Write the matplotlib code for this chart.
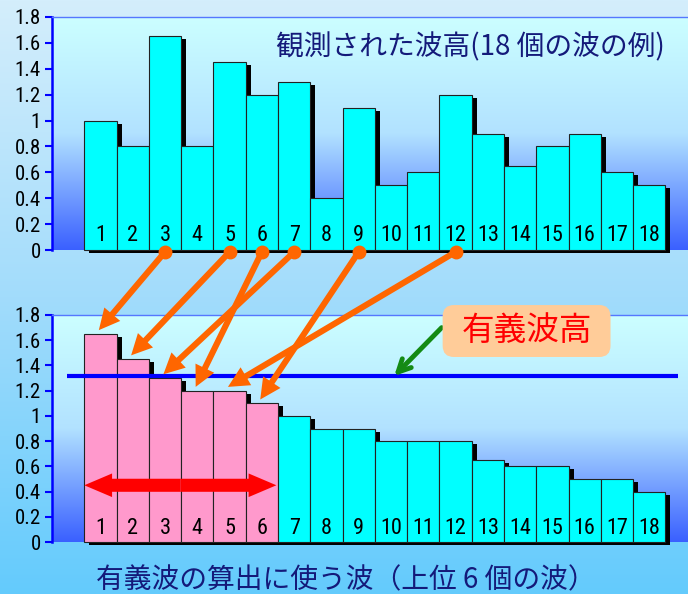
import numpy as np
import matplotlib.pyplot as plt
import matplotlib.patheffects as pe
from matplotlib import font_manager
from matplotlib.colors import LinearSegmentedColormap
from matplotlib.patches import ConnectionPatch, FancyArrowPatch, FancyBboxPatch

# データ
wave_no = np.arange(1, 19)
heights = np.array([1.0, 0.8, 1.65, 0.8, 1.45, 1.2, 1.3, 0.4, 1.1,
                    0.5, 0.6, 1.2, 0.9, 0.65, 0.8, 0.9, 0.6, 0.5])
n_sig = 6
yticks = [0, 0.2, 0.4, 0.6, 0.8, 1.0, 1.2, 1.4, 1.6, 1.8]
ytick_labels = ['0', '0.2', '0.4', '0.6', '0.8', '1', '1.2', '1.4', '1.6', '1.8']
title_top = '観測された波高(18 個の波の例)'
caption = '有義波の算出に使う波（上位 6 個の波）'
hs_label = '有義波高'

# 並べ替えと有義波高
order = np.argsort(-heights, kind='stable')
sorted_h = heights[order]
hs = sorted_h[:n_sig].mean()

plt.rcParams['font.family'] = ['Noto Sans CJK JP', 'DejaVu Sans']
installed = {f.name for f in font_manager.fontManager.ttflist}
num_font = 'DejaVu Sans'
for cand in ['Liberation Sans Narrow', 'DejaVu Sans Condensed', 'Roboto Condensed']:
    if cand in installed:
        num_font = cand
        break
narrow = num_font != 'DejaVu Sans'
bar_size = 16 if narrow else 12.5
tick_size = 15 if narrow else 12

fig = plt.figure(figsize=(6.88, 5.94), dpi=100)

# 背景のグラデーション
grad = np.linspace(0, 1, 256).reshape(-1, 1)
bg = fig.add_axes([0, 0, 1, 1], zorder=-10)
bg.imshow(grad, aspect='auto', extent=[0, 1, 0, 1],
          cmap=LinearSegmentedColormap.from_list('bg', ['#d4eefc', '#a2dcfb', '#64cbfd']))
bg.axis('off')

ax_cmap = LinearSegmentedColormap.from_list('ax', ['#ccffff', '#b2e2ff', '#3a60ff'])
shadow = [pe.SimplePatchShadow(offset=(3.6, -2.2), shadow_rgbFace='black', alpha=1.0),
          pe.Normal()]


def setup(ax):
    ax.patch.set_alpha(0)
    ax.imshow(grad, aspect='auto', cmap=ax_cmap, extent=[0, 1, 0, 1],
              transform=ax.transAxes, zorder=0)
    ax.set_xlim(-0.5, 19.2)
    ax.set_ylim(0, 1.8)
    ax.set_xticks([])
    ax.set_yticks(yticks, ytick_labels)
    ax.tick_params(axis='y', color='#0000ff', labelcolor='black', length=5,
                   width=1.5, direction='out', labelsize=tick_size, pad=3)
    for lbl in ax.get_yticklabels():
        lbl.set_family(num_font)
    ax.spines['left'].set_color('#0000ff')
    ax.spines['left'].set_linewidth(1.8)
    ax.spines['top'].set_color('#5577ff')
    ax.spines['top'].set_linewidth(1)
    ax.spines['right'].set_visible(False)
    ax.spines['bottom'].set_visible(False)


def draw_bars(ax, values, colors, labels):
    bars = ax.bar(wave_no, values, width=1.0, color=colors, edgecolor='#222222',
                  linewidth=0.8, zorder=2, clip_on=False)
    for b in bars:
        b.set_path_effects(shadow)
    for x, lab in zip(wave_no, labels):
        ax.text(x, 0.11, str(lab), ha='center', va='center', fontsize=bar_size,
                family=num_font, zorder=3)


# 上段: 観測された波高
ax1 = fig.add_axes([0.0756, 0.5791, 0.9244, 0.3923])
setup(ax1)
draw_bars(ax1, heights, '#00ffff', wave_no)
ax1.text(0.964, 0.871, title_top, transform=ax1.transAxes, ha='right', va='center',
         fontsize=20, color='#141a7a', zorder=5)

# 下段: 大きい順
ax2 = fig.add_axes([0.0756, 0.0875, 0.9244, 0.3822])
setup(ax2)
colors2 = ['#ff99cc' if i < n_sig else '#00ffff' for i in range(len(sorted_h))]
draw_bars(ax2, sorted_h, colors2, wave_no)
ax2.hlines(hs, -0.05, 18.9, colors='#0000ff', lw=3, zorder=4)

# 上位6個の範囲を示す赤い両矢印
mid = (0.5 + n_sig + 0.45) / 2
for end in (0.5, n_sig + 0.45):
    ax2.add_patch(FancyArrowPatch((mid, 0.45), (end, 0.45),
                                  arrowstyle='simple,head_length=1.0,head_width=0.85,tail_width=0.47',
                                  mutation_scale=20, color='#ff0000', lw=0,
                                  shrinkA=0, shrinkB=0, zorder=5))

# 有義波高のラベルと矢印
ax2.annotate('', xy=(10.1, hs), xytext=(11.57, 1.70),
             arrowprops=dict(arrowstyle='->,head_length=0.9,head_width=0.45',
                             color='#148a14', lw=3.5, shrinkA=0, shrinkB=0),
             zorder=6, annotation_clip=False)
box_w, box_h = 5.2, 0.412
ax2.add_patch(FancyBboxPatch((14.2 - box_w / 2, 1.673 - box_h / 2), box_w, box_h,
                             boxstyle='round,pad=0,rounding_size=0.35',
                             mutation_aspect=0.256, fc='#ffcc99', ec='none',
                             zorder=7, clip_on=False))
ax2.text(14.2, 1.673, hs_label, color='#ff0000', fontsize=23.5, ha='center', va='center',
         zorder=8)

# 上段から下段へのオレンジ色の矢印
for rank, idx in enumerate(order[:n_sig]):
    x0 = wave_no[idx]
    ax1.plot(x0, -0.015, 'o', color='#ff6600', ms=9, clip_on=False, zorder=6)
    con = ConnectionPatch(xyA=(x0, -0.015), coordsA=ax1.transData,
                          xyB=(rank + 1 - 0.05, sorted_h[rank] + 0.03), coordsB=ax2.transData,
                          arrowstyle='simple,head_length=0.75,head_width=0.75,tail_width=0.22',
                          mutation_scale=20, color='#ff6600', lw=0,
                          shrinkA=0, shrinkB=0, zorder=6)
    fig.add_artist(con)

fig.text(0.503, 0.0236, caption, ha='center', va='center', fontsize=20, color='#141a7a')

fig.savefig('out.png', dpi=100)
